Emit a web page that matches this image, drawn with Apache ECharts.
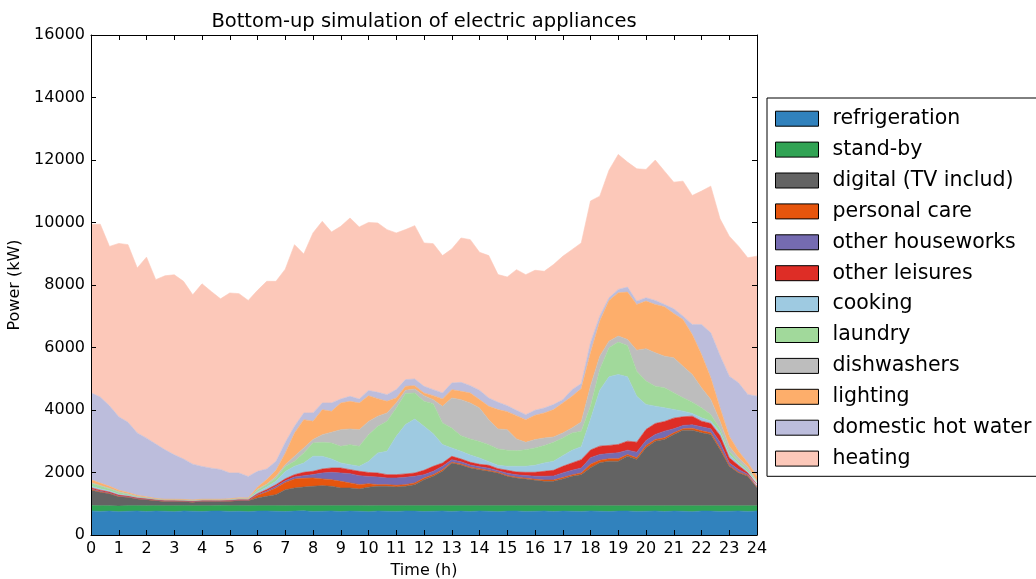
<!DOCTYPE html>
<html>
<head>
<meta charset="utf-8">
<title>Bottom-up simulation of electric appliances</title>
<script src="https://cdn.jsdelivr.net/npm/echarts@6/dist/echarts.min.js"></script>
<style>
  html, body { margin: 0; padding: 0; background: #fff; }
  #chart { width: 1036px; height: 579px; }
</style>
</head>
<body>
<div id="chart"></div>
<script>
// time axis: one sample every 20 minutes, 0h .. 24h
const hours = Array.from({ length: 73 }, (_, k) => String(k / 3));

// power per end use (W)
const refrigeration = [
  770,755,765,745,760,770,750,765,760,745,770,760,750,765,770,755,760,745,765,
  770,760,750,765,775,755,760,770,750,765,760,745,770,760,755,770,765,750,
  760,770,755,765,750,770,760,745,765,770,755,760,770,750,765,760,755,770,
  760,750,765,770,755,760,770,750,765,760,745,770,765,755,760,770,755,765];
const standby = [
  175,185,170,180,180,170,185,175,175,190,170,175,185,170,175,185,180,190,175,
  170,180,185,175,165,185,180,170,190,175,180,190,170,180,185,170,175,190,
  180,170,185,175,190,170,180,195,175,170,185,180,170,190,175,180,185,170,
  175,185,170,165,180,175,165,185,170,175,190,165,170,180,175,165,180,170];
const digital = [
  490,426,384,300,267,213,192,160,139,139,128,117,139,139,128,139,160,160,245,
  299,352,512,565,597,619,640,619,565,565,533,597,619,619,597,619,672,832,
  939,1099,1365,1301,1205,1152,1099,1045,939,885,853,811,779,779,853,939,992,1216,
  1376,1429,1429,1589,1483,1856,2069,2123,2283,2421,2421,2336,2283,1803,1269,1056,949,576];
const personalCare = [
  20,20,15,15,10,10,10,10,10,10,10,10,10,10,10,10,10,10,85,
  139,213,235,288,277,267,213,213,213,160,139,107,53,53,53,53,53,53,
  53,53,21,30,25,25,25,20,25,25,25,30,40,40,45,45,50,107,
  85,75,75,53,53,75,53,53,53,43,64,64,53,53,21,21,21,21];
const otherHouseworks = [
  15,15,10,10,5,5,5,5,5,5,5,5,5,5,5,5,5,5,21,
  32,53,53,64,85,107,192,235,267,299,288,235,245,213,235,235,213,107,
  107,107,85,70,70,65,75,55,75,75,85,100,120,130,150,150,160,213,
  181,171,192,139,181,160,160,213,128,107,107,128,128,181,85,85,43,32];
const otherLeisures = [
  40,35,30,30,25,25,25,25,25,25,25,25,25,25,25,25,25,25,32,
  43,53,64,75,107,107,128,139,160,128,139,128,128,107,107,107,107,139,
  160,107,107,92,86,81,92,64,92,92,103,126,160,182,210,232,270,245,
  267,256,267,288,320,352,352,309,341,277,277,181,171,213,160,128,43,53];
const cooking = [
  50,45,40,30,20,15,10,5,5,5,5,5,5,5,5,5,10,10,53,
  85,107,235,267,299,480,405,288,160,160,160,352,640,747,1227,1579,1728,1408,
  1045,587,267,245,235,203,117,107,128,181,192,224,267,288,341,405,416,981,
  1792,2197,2240,2059,1472,800,555,437,277,181,85,107,75,107,107,64,43,32];
const laundry = [
  100,85,70,60,40,25,15,5,10,10,10,10,10,10,10,15,20,20,64,
  75,107,160,160,320,427,448,512,533,640,640,853,853,960,907,992,832,800,
  960,693,640,501,512,523,544,523,512,501,533,555,555,608,565,555,491,427,
  661,928,1035,1003,800,747,640,640,533,427,363,320,213,107,107,75,64,43];
const dishwashers = [
  20,20,15,15,10,8,5,5,5,5,5,5,5,5,5,5,5,5,21,
  21,53,53,160,160,107,245,341,533,501,533,427,320,267,160,107,128,181,
  128,533,960,1152,1152,1077,800,640,661,373,235,267,245,171,160,160,299,640,
  427,213,192,192,672,1035,1067,1013,1120,1013,885,640,480,245,160,107,85,32];
const lighting = [
  85,75,60,50,40,30,25,15,10,10,10,10,10,10,10,15,15,15,75,
  139,192,373,747,907,587,800,672,853,885,853,821,565,373,160,128,107,85,
  128,235,267,267,320,267,427,619,576,747,725,779,800,875,960,1013,1067,1067,
  1120,1301,1387,1515,1461,1525,1547,1579,1419,1493,1280,1067,693,427,320,213,128,160];
const hotWater = [
  2784,2756,2576,2350,2250,1994,1878,1743,1583,1423,1295,1146,1050,996,954,826,795,689,501,
  341,288,341,213,213,267,213,267,128,160,128,171,203,213,267,213,213,213,
  192,192,213,288,235,299,267,235,192,171,160,160,160,160,107,213,160,320,
  160,85,107,160,107,107,128,75,149,107,320,960,1440,1675,1920,2187,2187,2560];
const heating = [
  5387,5529,5099,5546,5685,5280,5792,5259,5568,5760,5686,5419,5845,5654,5461,5760,5739,5632,5792,
  6005,5760,5547,5813,5088,5760,5813,5472,5525,5707,5504,5376,5419,5280,5013,4800,4907,4587,
  4672,4395,4288,4619,4672,4416,4555,4085,4117,4501,4480,4480,4373,4480,4587,4480,4501,4533,
  3840,4085,4320,4000,4235,4107,4491,4267,4053,4320,4128,4267,4693,4373,4480,4373,4373,4480];

const names = ['refrigeration', 'stand-by', 'digital (TV includ)', 'personal care',
  'other houseworks', 'other leisures', 'cooking', 'laundry', 'dishwashers',
  'lighting', 'domestic hot water', 'heating'];
const colors = ['#3182bd', '#31a354', '#636363', '#e6550d', '#756bb1', '#de2d26',
  '#9ecae1', '#a1d99b', '#bdbdbd', '#fdae6b', '#bcbddc', '#fcc8b9'];
const seriesValues = [refrigeration, standby, digital, personalCare, otherHouseworks,
  otherLeisures, cooking, laundry, dishwashers, lighting, hotWater, heating];

const yTicks = { min: 0, max: 16000, interval: 2000 };

const font = 'DejaVu Sans';
const axisLine = { show: true, onZero: false, lineStyle: { color: '#000', width: 1 } };
const tick = { show: true, inside: true, length: 5, lineStyle: { color: '#000' } };
// a tick / label on every whole hour (every third sample)
const onHour = (idx) => idx % 3 === 0;

const xBase = {
  type: 'category',
  data: hours,
  boundaryGap: false,
  z: 10,
  axisLine: axisLine,
  axisTick: Object.assign({}, tick, { interval: onHour }),
  splitLine: { show: false }
};
const yBase = Object.assign({
  type: 'value',
  z: 10,
  axisLine: axisLine,
  axisTick: tick,
  splitLine: { show: false }
}, yTicks);

const chart = echarts.init(document.getElementById('chart'), null, { renderer: 'canvas' });

chart.setOption({
  animation: false,
  backgroundColor: '#fff',
  title: {
    text: 'Bottom-up simulation of electric appliances',
    left: 424,
    top: 12,
    padding: 0,
    textAlign: 'center',
    textStyle: { color: '#000', fontFamily: font, fontSize: 19.5, fontWeight: 'normal' }
  },
  grid: { left: 91, top: 35, width: 666, height: 500, outerBoundsMode: 'none', containLabel: false },
  legend: {
    orient: 'vertical',
    left: 767,
    top: 98,
    padding: [9, 10, 6, 8],
    itemGap: 7.5,
    itemWidth: 43,
    itemHeight: 15,
    icon: 'rect',
    borderColor: '#000',
    borderWidth: 1,
    backgroundColor: '#fff',
    itemStyle: { borderColor: '#000', borderWidth: 1 },
    textStyle: { color: '#000', fontFamily: font, fontSize: 20.5, lineHeight: 23.4, padding: [0, 0, 0, 9] },
    data: names
  },
  xAxis: [
    Object.assign({}, xBase, {
      position: 'bottom',
      axisLabel: {
        color: '#000', fontFamily: font, fontSize: 16, margin: 6,
        interval: onHour,
        formatter: (v) => String(Math.round(Number(v)))
      },
      name: 'Time (h)',
      nameLocation: 'middle',
      nameGap: 28,
      nameTextStyle: { color: '#000', fontFamily: font, fontSize: 16, verticalAlign: 'top' }
    }),
    Object.assign({}, xBase, { position: 'top', axisLabel: { show: false } })
  ],
  yAxis: [
    Object.assign({}, yBase, {
      position: 'left',
      axisLabel: { color: '#000', fontFamily: font, fontSize: 16, margin: 6, formatter: (v) => String(v) },
      name: 'Power (kW)',
      nameLocation: 'middle',
      nameGap: 58,
      nameTextStyle: { color: '#000', fontFamily: font, fontSize: 16 }
    }),
    Object.assign({}, yBase, { position: 'right', axisLabel: { show: false } })
  ],
  series: names.map((name, i) => ({
    name: name,
    type: 'line',
    stack: 'load',
    symbol: 'none',
    showSymbol: false,
    silent: true,
    color: colors[i],
    lineStyle: { width: 0.6, color: colors[i] },
    areaStyle: { color: colors[i], opacity: 1 },
    data: seriesValues[i]
  }))
});
</script>
</body>
</html>
